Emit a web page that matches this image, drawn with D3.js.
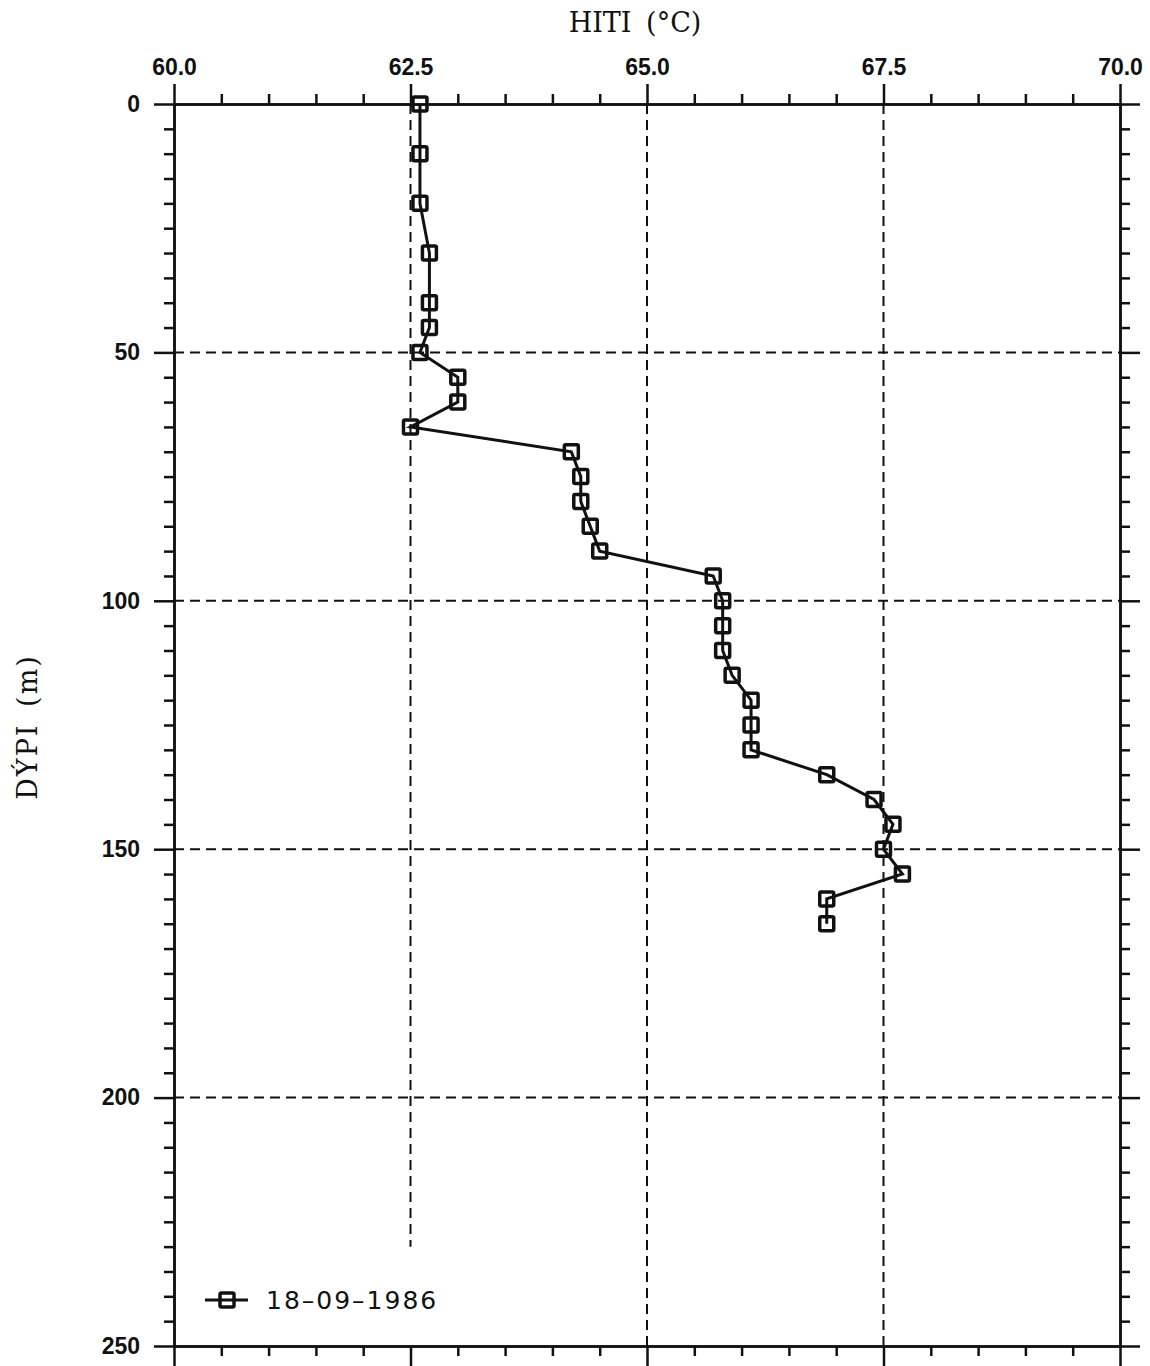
<!DOCTYPE html>
<html>
<head>
<meta charset="utf-8">
<script src="https://cdn.jsdelivr.net/npm/d3@7"></script>
<style>
  html, body { margin: 0; padding: 0; background: #fff; }
  svg { display: block; }
</style>
</head>
<body>
<svg id="chart" width="1150" height="1366"></svg>
<script>
// ---- data ----
const depths = [0, 10, 20, 30, 40, 45, 50, 55, 60, 65, 70, 75, 80, 85, 90, 95, 100, 105, 110, 115, 120, 125, 130, 135, 140, 145, 150, 155, 160, 165];
const temps  = [62.6, 62.6, 62.6, 62.7, 62.7, 62.7, 62.6, 63.0, 63.0, 62.5, 64.2, 64.3, 64.3, 64.4, 64.5, 65.7, 65.8, 65.8, 65.8, 65.9, 66.1, 66.1, 66.1, 66.9, 67.4, 67.6, 67.5, 67.7, 66.9, 66.9];
const seriesLabel = "18–09–1986";
const xMajorTicks = [60, 62.5, 65, 67.5, 70];
const xMinorTicks = [60.5, 61, 61.5, 62, 63, 63.5, 64, 64.5, 65.5, 66, 66.5, 67, 68, 68.5, 69, 69.5];
const yMajorTicks = [0, 50, 100, 150, 200, 250];
const yMinorTicks = [5,10,15,20,25,30,35,40,45,55,60,65,70,75,80,85,90,95,105,110,115,120,125,130,135,140,145,155,160,165,170,175,180,185,190,195,205,210,215,220,225,230,235,240,245];
const xGridTicks = [62.5, 65, 67.5];
const yGridTicks = [50, 100, 150, 200];
const xTitle = "HITI (°C)";
const yTitle = "DÝPI (m)";

// ---- layout ----
const L = 174, R = 1120, T = 104, B = 1346;
const x = d3.scaleLinear().domain([60, 70]).range([L, R]);
const y = d3.scaleLinear().domain([0, 250]).range([T, B]);

const svg = d3.select("#chart");
svg.append("rect").attr("width", 1150).attr("height", 1366).attr("fill", "#fff");

// ---- grid ----
const grid = svg.append("g").attr("stroke", "#111").attr("stroke-width", 2).attr("stroke-dasharray", "10,6").attr("fill", "none");
grid.selectAll("line.vx").data(xGridTicks).join("line")
  .attr("x1", d => x(d)).attr("x2", d => x(d))
  .attr("y1", T).attr("y2", d => d === 62.5 ? y(230) : B);
grid.selectAll("line.hy").data(yGridTicks).join("line")
  .attr("x1", L).attr("x2", R)
  .attr("y1", d => y(d)).attr("y2", d => y(d));

// ---- axes ----
const tickFont = "'Liberation Sans', Arial, sans-serif";
function styleAxis(g) {
  g.selectAll("path.domain").attr("stroke", "#111").attr("stroke-width", 2.5);
  g.selectAll(".tick line").attr("stroke", "#111").attr("stroke-width", 2.5);
  g.selectAll(".tick text").attr("fill", "#111").style("font-family", tickFont)
    .style("font-size", "23px").style("font-weight", "bold");
}
// top
svg.append("g").attr("transform", `translate(0,${T})`)
  .call(d3.axisTop(x).tickValues(xMajorTicks).tickFormat(d3.format(".1f")).tickSize(20).tickSizeOuter(0).tickPadding(9))
  .call(styleAxis);
svg.append("g").attr("transform", `translate(0,${T})`)
  .call(d3.axisTop(x).tickValues(xMinorTicks).tickFormat("").tickSize(10).tickSizeOuter(0))
  .call(styleAxis);
// bottom
svg.append("g").attr("transform", `translate(0,${B})`)
  .call(d3.axisBottom(x).tickValues(xMajorTicks).tickFormat("").tickSize(20).tickSizeOuter(0))
  .call(styleAxis);
svg.append("g").attr("transform", `translate(0,${B})`)
  .call(d3.axisBottom(x).tickValues(xMinorTicks).tickFormat("").tickSize(10).tickSizeOuter(0))
  .call(styleAxis);
// left
svg.append("g").attr("transform", `translate(${L},0)`)
  .call(d3.axisLeft(y).tickValues(yMajorTicks).tickFormat(d3.format("d")).tickSize(20).tickSizeOuter(0).tickPadding(14))
  .call(styleAxis);
svg.append("g").attr("transform", `translate(${L},0)`)
  .call(d3.axisLeft(y).tickValues(yMinorTicks).tickFormat("").tickSize(10).tickSizeOuter(0))
  .call(styleAxis);
// right
svg.append("g").attr("transform", `translate(${R},0)`)
  .call(d3.axisRight(y).tickValues(yMajorTicks).tickFormat("").tickSize(20).tickSizeOuter(0))
  .call(styleAxis);
svg.append("g").attr("transform", `translate(${R},0)`)
  .call(d3.axisRight(y).tickValues(yMinorTicks).tickFormat("").tickSize(10).tickSizeOuter(0))
  .call(styleAxis);

// ---- titles ----
svg.append("text").attr("x", 635).attr("y", 32).attr("text-anchor", "middle")
  .style("font-family", "'DejaVu Serif', serif").style("font-size", "27px").style("word-spacing", "6px")
  .attr("fill", "#111")
  .text(xTitle);
svg.append("text").attr("transform", "translate(37,727) rotate(-90)").attr("text-anchor", "middle")
  .style("font-family", "'DejaVu Serif', serif").style("font-size", "27px")
  .style("letter-spacing", "2px").style("word-spacing", "6px").attr("fill", "#111")
  .text(yTitle);

// ---- series ----
const pts = depths.map((d, i) => ({ depth: d, temp: temps[i] }));
const line = d3.line().x(d => x(d.temp)).y(d => y(d.depth));
svg.append("path").datum(pts).attr("d", line)
  .attr("fill", "none").attr("stroke", "#111").attr("stroke-width", 3);
const ms = 14;
svg.append("g").selectAll("rect").data(pts).join("rect")
  .attr("x", d => x(d.temp) - ms / 2).attr("y", d => y(d.depth) - ms / 2)
  .attr("width", ms).attr("height", ms).attr("rx", 1.5)
  .attr("fill", "none").attr("stroke", "#111").attr("stroke-width", 3.5);

// ---- legend ----
const lg = svg.append("g").attr("transform", "translate(205,1300)");
lg.append("line").attr("x1", 0).attr("x2", 43).attr("y1", 0).attr("y2", 0)
  .attr("stroke", "#111").attr("stroke-width", 3);
lg.append("rect").attr("x", 22 - ms / 2).attr("y", -ms / 2).attr("width", ms).attr("height", ms).attr("rx", 1.5)
  .attr("fill", "none").attr("stroke", "#111").attr("stroke-width", 3.5);
lg.append("text").attr("x", 61).attr("y", 9)
  .style("font-family", "'DejaVu Sans', sans-serif").style("font-size", "25px").style("letter-spacing", "2px")
  .attr("fill", "#111").text(seriesLabel);
</script>
</body>
</html>
